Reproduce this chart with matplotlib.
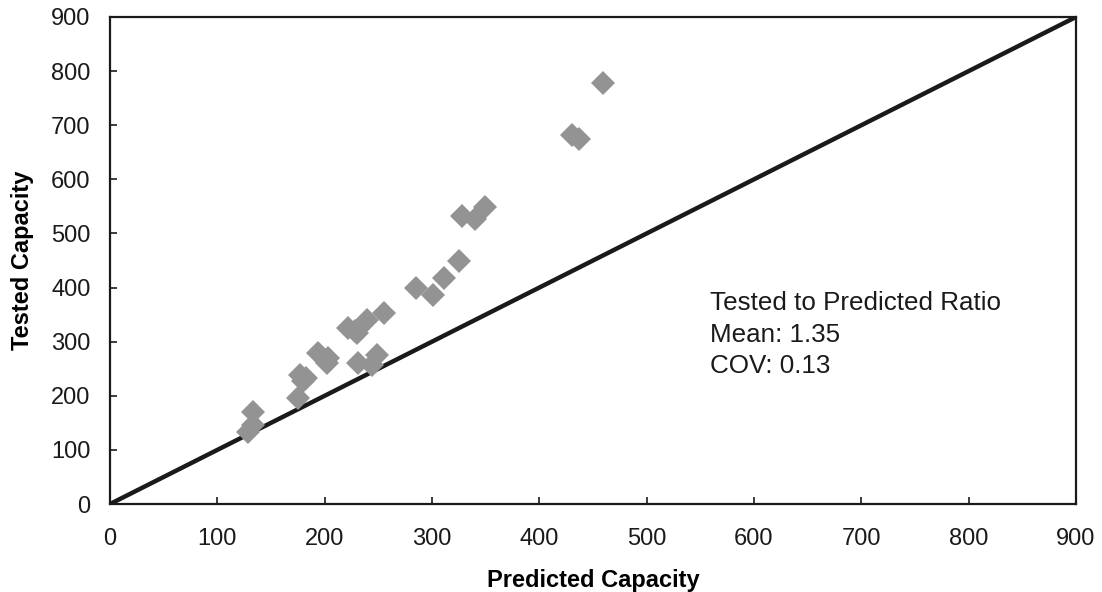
import matplotlib.pyplot as plt

plt.rcParams['font.family'] = ['Liberation Sans', 'DejaVu Sans']

# predicted vs tested capacity
predicted = [129, 133, 133, 175, 177, 180, 183, 194, 202, 203, 222, 228, 230,
             231, 239, 244, 249, 255, 285, 301, 311, 325, 328, 340, 349,
             430, 437, 459]
tested = [133, 146, 170, 196, 238, 228, 232, 279, 260, 270, 325, 320, 316,
          260, 340, 257, 275, 353, 399, 386, 418, 449, 532, 527, 549,
          682, 675, 778]

ticks = list(range(0, 1000, 100))
note = "Tested to Predicted Ratio\nMean: 1.35\nCOV: 0.13"

fig = plt.figure(figsize=(11.02, 5.92), dpi=100)
ax = fig.add_axes([0.0998, 0.1486, 0.8766, 0.8227])

ax.plot([0, 900], [0, 900], color='#1a1a1a', linewidth=3.2, zorder=2)
ax.plot(predicted, tested, 'D', color='#939393', markersize=12.5,
        markeredgewidth=0, zorder=3)

ax.set_xlim(0, 900)
ax.set_ylim(0, 900)
ax.set_xticks(ticks)
ax.set_yticks(ticks)
ax.tick_params(direction='in', length=5, width=1.2, labelsize=17,
               colors='#1a1a1a', pad=14)
ax.tick_params(axis='x', pad=17)
for s in ax.spines.values():
    s.set_linewidth(1.6)
    s.set_color('#1a1a1a')

ax.set_xlabel('Predicted Capacity', fontsize=17, fontweight='bold', labelpad=14)
ax.set_ylabel('Tested Capacity', fontsize=17, fontweight='bold', labelpad=12)

ax.text(559, 393, note, fontsize=18.7, va='top', ha='left', linespacing=1.38,
        color='#1a1a1a')

fig.savefig('out.png', dpi=100)
